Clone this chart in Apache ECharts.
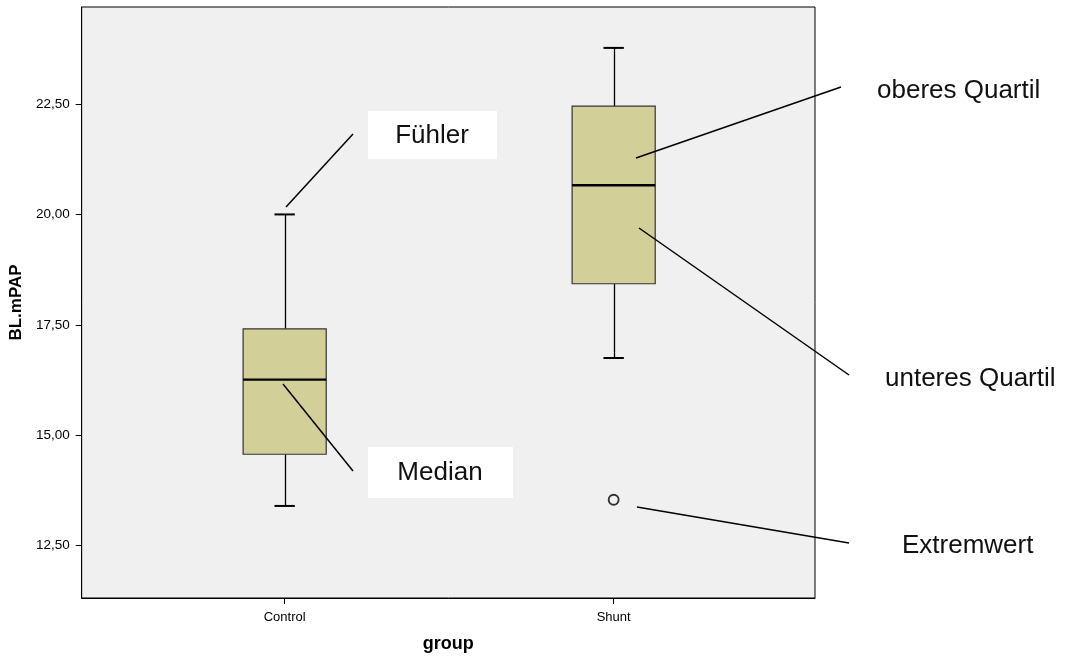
<!DOCTYPE html>
<html>
<head>
<meta charset="utf-8">
<script src="https://cdn.jsdelivr.net/npm/echarts@6/dist/echarts.min.js"></script>
<style>html,body{margin:0;padding:0;background:#fff;}#c{width:1068px;height:658px;}</style>
</head>
<body>
<div id="c"></div>
<script>
var categories = ['Control', 'Shunt'];
var whiskerLow = [13.40, 16.75];
var q1 = [14.57, 18.43];
var median = [16.26, 20.66];
var q3 = [17.41, 22.45];
var whiskerHigh = [20.00, 23.77];
var outliers = [[1, 13.54]];
var yTicks = [12.5, 15, 17.5, 20, 22.5];
var xTicks = [0, 1];

var FONT = '"Liberation Sans", Arial, sans-serif';
var BOX_HALF = 0.1263;
var CAP_HALF = 0.031;

var boxData = categories.map(function (c, i) {
  return [i, whiskerLow[i], q1[i], median[i], q3[i], whiskerHigh[i]];
});

function renderBox(params, api) {
  var x = api.value(0);
  var lo = api.coord([x, api.value(1)]);
  var p1 = api.coord([x, api.value(2)]);
  var md = api.coord([x, api.value(3)]);
  var p3 = api.coord([x, api.value(4)]);
  var hi = api.coord([x, api.value(5)]);
  var bl = api.coord([x - BOX_HALF, 0])[0];
  var br = api.coord([x + BOX_HALF, 0])[0];
  var cl = api.coord([x - CAP_HALF, 0])[0];
  var cr = api.coord([x + CAP_HALF, 0])[0];
  var cx = Math.round(lo[0]) + 0.5;
  var lineStyle = { stroke: '#000', lineWidth: 1.3 };
  return {
    type: 'group',
    children: [
      { type: 'line', shape: { x1: cx, y1: hi[1], x2: cx, y2: p3[1] }, style: lineStyle },
      { type: 'line', shape: { x1: cx, y1: p1[1], x2: cx, y2: lo[1] }, style: lineStyle },
      { type: 'line', shape: { x1: cl, y1: hi[1], x2: cr, y2: hi[1] }, style: { stroke: '#000', lineWidth: 2 } },
      { type: 'line', shape: { x1: cl, y1: lo[1], x2: cr, y2: lo[1] }, style: { stroke: '#000', lineWidth: 2 } },
      { type: 'rect', shape: { x: bl, y: p3[1], width: br - bl, height: p1[1] - p3[1] },
        style: { fill: '#d3cf98', stroke: '#333', lineWidth: 1.2 } },
      { type: 'line', shape: { x1: bl, y1: md[1], x2: br, y2: md[1] }, style: { stroke: '#000', lineWidth: 2.4 } }
    ]
  };
}

var lineStyleA = { stroke: '#000', lineWidth: 1.5 };
function seg(x1, y1, x2, y2) {
  return { type: 'line', shape: { x1: x1, y1: y1, x2: x2, y2: y2 }, style: lineStyleA, z: 100 };
}
function label(text, x, y, align) {
  return { type: 'text', x: x, y: y, z: 101,
    style: { text: text, font: '26px ' + FONT, fill: '#111', align: align || 'left', verticalAlign: 'middle' } };
}

var chart = echarts.init(document.getElementById('c'), null, { renderer: 'canvas' });
chart.setOption({
  animation: false,
  backgroundColor: '#fff',
  grid: {
    left: 80, top: 7, right: 253, bottom: 60,
    show: true, backgroundColor: '#f0f0f0', borderColor: '#000', borderWidth: 1
  },
  xAxis: {
    type: 'value', min: -0.617, max: 1.612,
    name: 'group', nameLocation: 'middle', nameGap: 37,
    nameTextStyle: { fontFamily: FONT, fontSize: 18, fontWeight: 'bold', color: '#000' },
    axisLine: { show: true, onZero: false, lineStyle: { color: '#000', width: 1 } },
    axisTick: { show: true, length: 6, customValues: xTicks, lineStyle: { color: '#000' } },
    axisLabel: { customValues: xTicks, margin: 13, fontFamily: FONT, fontSize: 13, color: '#000',
      formatter: function (v) { return categories[Math.round(v)] || ''; } },
    splitLine: { show: false }
  },
  yAxis: {
    type: 'value', min: 11.316, max: 24.696,
    name: 'BL.mPAP', nameLocation: 'middle', nameGap: 54, nameRotate: 90,
    nameTextStyle: { fontFamily: FONT, fontSize: 17, fontWeight: 'bold', color: '#000' },
    axisLine: { show: true, onZero: false, lineStyle: { color: '#000', width: 1 } },
    axisTick: { show: true, length: 6, customValues: yTicks, lineStyle: { color: '#000' } },
    axisLabel: { customValues: yTicks, margin: 12, fontFamily: FONT, fontSize: 13.5, color: '#000',
      formatter: function (v) { return v.toFixed(2).replace('.', ','); } },
    splitLine: { show: false }
  },
  series: [
    { type: 'custom', renderItem: renderBox, data: boxData, encode: { x: 0, y: [1, 2, 3, 4, 5] }, z: 2 },
    { type: 'scatter', data: outliers, symbol: 'circle', symbolSize: 10, z: 3,
      itemStyle: { color: '#f0f0f0', borderColor: '#000', borderWidth: 1.8 } }
  ],
  graphic: [
    { type: 'rect', shape: { x: 368, y: 111, width: 129, height: 48 }, style: { fill: '#fff' }, z: 100 },
    { type: 'rect', shape: { x: 368, y: 447, width: 145, height: 51 }, style: { fill: '#fff' }, z: 100 },
    label('Fühler', 432, 136, 'center'),
    label('Median', 440, 473, 'center'),
    label('oberes Quartil', 877, 91),
    label('unteres Quartil', 885, 379),
    label('Extremwert', 902, 546),
    seg(286, 207, 353, 134),
    seg(283, 384, 353, 471),
    seg(636, 158, 841, 87),
    seg(639, 228, 849, 375),
    seg(637, 507, 849, 543)
  ]
});
</script>
</body>
</html>
